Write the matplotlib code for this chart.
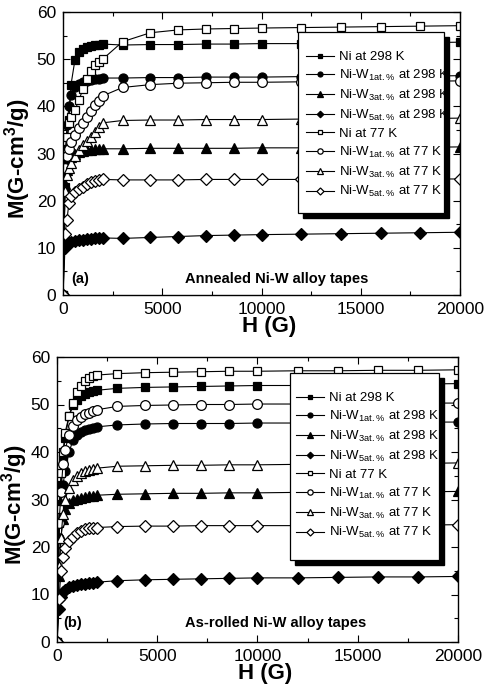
import matplotlib
matplotlib.use("Agg")
import matplotlib.pyplot as plt
from matplotlib.patches import Rectangle
from matplotlib.transforms import offset_copy
from matplotlib.ticker import MultipleLocator

plt.rcParams['font.family'] = 'Liberation Sans'
plt.rcParams['mathtext.fontset'] = 'custom'
plt.rcParams['mathtext.rm'] = 'Liberation Sans'
plt.rcParams['mathtext.bf'] = 'Liberation Sans:bold'

# --- Data ---
H = [0, 100, 200, 300, 400, 600, 800, 1000, 1200, 1400, 1600, 1800, 2000,
     3000, 4400, 5800, 7200, 8600, 10000, 12000, 14000, 16000, 18000, 20000]

# (a) annealed tapes
a_ni_298 = [0, 23, 31, 37, 44.5, 49.8, 51.5, 52.2, 52.6, 52.8, 53.0, 53.1, 53.2,
            53.0, 53.1, 53.1, 53.2, 53.2, 53.3, 53.3, 53.4, 53.4, 53.5, 53.6]
a_w1_298 = [0, 28, 36, 40, 42.5, 44, 44.7, 45.1, 45.4, 45.6, 45.8, 45.9, 46.0,
            46.0, 46.1, 46.1, 46.2, 46.2, 46.2, 46.3, 46.3, 46.4, 46.4, 46.5]
a_w3_298 = [0, 23.5, 26.5, 28.5, 29.3, 30.0, 30.4, 30.6, 30.7, 30.8, 30.9, 31.0, 31.0,
            31.0, 31.1, 31.1, 31.1, 31.1, 31.2, 31.2, 31.2, 31.3, 31.3, 31.4]
a_w5_298 = [0, 10, 10.8, 11.1, 11.3, 11.5, 11.6, 11.7, 11.8, 11.9, 12.0, 12.0, 12.1,
            12.0, 12.2, 12.4, 12.6, 12.7, 12.8, 12.9, 13.0, 13.1, 13.2, 13.3]
a_ni_77 = [0, 30, 33.5, 36.4, 37.8, 39.2, 41.3, 43.6, 45.9, 47.5, 48.7, 49.4, 50.0,
           53.7, 55.6, 56.2, 56.4, 56.5, 56.6, 56.7, 56.8, 56.9, 57.0, 57.1]
a_w1_77 = [0, 27, 29.5, 31, 32.5, 34, 35.4, 36.5, 37.7, 39.0, 40.2, 41.2, 42.2,
           44.0, 44.6, 44.9, 45.0, 45.1, 45.1, 45.2, 45.2, 45.3, 45.3, 45.4]
a_w3_77 = [0, 22, 25.5, 27, 28, 29.5, 30.8, 31.8, 32.6, 33.5, 34.6, 35.6, 36.5,
           37.0, 37.1, 37.1, 37.2, 37.2, 37.2, 37.3, 37.3, 37.4, 37.4, 37.5]
a_w5_77 = [0, 13, 16, 19.5, 21, 21.8, 22.4, 23.0, 23.5, 23.9, 24.2, 24.4, 24.5,
           24.4, 24.4, 24.4, 24.5, 24.5, 24.5, 24.5, 24.5, 24.6, 24.6, 24.6]

# (b) as-rolled tapes
b_ni_298 = [0, 25, 33, 38.5, 43, 47.5, 49.8, 51, 51.8, 52.3, 52.6, 52.8, 53.0,
            53.4, 53.6, 53.7, 53.8, 53.9, 54.0, 54.0, 54.1, 54.2, 54.3, 54.4]
b_w1_298 = [0, 22, 29, 33, 36, 40, 42.5, 43.6, 44.2, 44.6, 44.9, 45.1, 45.3,
            45.7, 45.9, 46.0, 46.0, 46.0, 46.1, 46.1, 46.2, 46.2, 46.3, 46.3]
b_w3_298 = [0, 14, 22, 26, 28, 29.2, 29.8, 30.2, 30.4, 30.6, 30.7, 30.8, 30.9,
            31.1, 31.2, 31.3, 31.3, 31.4, 31.4, 31.5, 31.5, 31.6, 31.6, 31.7]
b_w5_298 = [0, 7, 9.5, 10.5, 11, 11.5, 11.8, 12.0, 12.2, 12.3, 12.4, 12.5, 12.6,
            12.9, 13.1, 13.2, 13.3, 13.4, 13.5, 13.5, 13.6, 13.7, 13.7, 13.8]
b_ni_77 = [0, 28, 35.5, 40, 44, 47.6, 50.4, 52.7, 54, 55, 55.6, 56.0, 56.2,
           56.5, 56.7, 56.8, 56.9, 57.0, 57.0, 57.1, 57.1, 57.2, 57.2, 57.3]
b_w1_77 = [0, 25, 31.5, 37.5, 40.5, 43.5, 45.5, 46.7, 47.3, 47.9, 48.3, 48.6, 48.9,
           49.6, 49.8, 49.9, 50.0, 50.0, 50.1, 50.1, 50.2, 50.2, 50.3, 50.3]
b_w3_77 = [0, 16, 22, 27, 30, 32.5, 34.2, 35.0, 35.5, 35.9, 36.2, 36.4, 36.6,
           37.0, 37.1, 37.2, 37.2, 37.3, 37.3, 37.4, 37.5, 37.5, 37.6, 37.7]
b_w5_77 = [0, 9, 15, 18, 19.8, 21.2, 22.2, 22.9, 23.4, 23.7, 23.9, 24.0, 24.1,
           24.3, 24.4, 24.4, 24.5, 24.5, 24.5, 24.5, 24.6, 24.6, 24.6, 24.7]

labels = ['Ni at 298 K',
          r'Ni-W$_{\mathrm{1at.\%}}$ at 298 K',
          r'Ni-W$_{\mathrm{3at.\%}}$ at 298 K',
          r'Ni-W$_{\mathrm{5at.\%}}$ at 298 K',
          'Ni at 77 K',
          r'Ni-W$_{\mathrm{1at.\%}}$ at 77 K',
          r'Ni-W$_{\mathrm{3at.\%}}$ at 77 K',
          r'Ni-W$_{\mathrm{5at.\%}}$ at 77 K']
markers = ['s', 'o', '^', 'D', 's', 'o', '^', 'D']
msizes = [6, 6.5, 7, 6, 6, 7, 7.5, 6.5]
fills = ['k', 'k', 'k', 'k', 'w', 'w', 'w', 'w']

panels = [
    dict(series=[a_ni_298, a_w1_298, a_w3_298, a_w5_298, a_ni_77, a_w1_77, a_w3_77, a_w5_77],
         rect=[63 / 485, 1 - 295 / 696, 397 / 485, 283 / 696],
         tag='(a)', tag_x=0.022, note='Annealed Ni-W alloy tapes', note_x=0.307, note_y=0.057,
         frame=(0.592, 0.29, 0.368, 0.639), leg_anchor=(0.612, 0.862),
         ylab_x=-0.076, xlab_y=-0.075),
    dict(series=[b_ni_298, b_w1_298, b_w3_298, b_w5_298, b_ni_77, b_w1_77, b_w3_77, b_w5_77],
         rect=[57 / 485, 1 - 642 / 696, 401 / 485, 285 / 696],
         tag='(b)', tag_x=0.015, note='As-rolled Ni-W alloy tapes', note_x=0.319, note_y=0.067,
         frame=(0.581, 0.288, 0.372, 0.656), leg_anchor=(0.597, 0.877),
         ylab_x=-0.068, xlab_y=-0.072),
]

fig = plt.figure(figsize=(4.85, 6.96), dpi=100)

for p in panels:
    ax = fig.add_axes(p['rect'])
    for ys, lab, mk, ms, fc in zip(p['series'], labels, markers, msizes, fills):
        ax.plot(H, ys, color='k', lw=0.8, marker=mk, ms=ms, mfc=fc, mec='k',
                mew=0.9, label=lab)

    ax.set_xlim(0, 20000)
    ax.set_ylim(0, 60)
    ax.xaxis.set_major_locator(MultipleLocator(5000))
    ax.xaxis.set_minor_locator(MultipleLocator(2500))
    ax.yaxis.set_major_locator(MultipleLocator(10))
    ax.yaxis.set_minor_locator(MultipleLocator(5))
    ax.tick_params(which='both', direction='in', top=True, right=True, labelsize=12.5)
    ax.tick_params(which='major', length=5, width=0.8, pad=5)
    ax.tick_params(which='minor', length=3, width=0.8)
    for s in ax.spines.values():
        s.set_linewidth(1.0)

    ax.set_xlabel('H (G)', fontsize=16, fontweight='bold')
    ax.set_ylabel(r'M(G-cm$^{\mathbf{3}}$/g)', fontsize=16, fontweight='bold')
    ax.xaxis.set_label_coords(0.52, p['xlab_y'])
    ax.yaxis.set_label_coords(p['ylab_x'], 0.48)

    ax.text(p['tag_x'], p['note_y'], p['tag'], transform=ax.transAxes,
            fontsize=10.5, fontweight='bold', va='center')
    ax.text(p['note_x'], p['note_y'], p['note'], transform=ax.transAxes,
            fontsize=10.5, fontweight='bold', va='center')

    # legend box with a solid drop shadow
    x0, y0, w, h = p['frame']
    shadow_tr = offset_copy(ax.transAxes, fig=fig, x=5, y=-5, units='dots')
    ax.add_patch(Rectangle((x0, y0), w, h, transform=shadow_tr, fc='k', ec='k',
                           zorder=6, clip_on=False))
    ax.add_patch(Rectangle((x0, y0), w, h, transform=ax.transAxes, fc='w', ec='k',
                           lw=0.9, zorder=7, clip_on=False))
    leg = ax.legend(loc='upper left', bbox_to_anchor=p['leg_anchor'], frameon=False,
                    fontsize=9.5, handlelength=2.1, handletextpad=0.4,
                    labelspacing=0.36, borderpad=0, borderaxespad=0, markerscale=0.55)
    leg.set_zorder(8)

fig.savefig('out.png', dpi=100)
